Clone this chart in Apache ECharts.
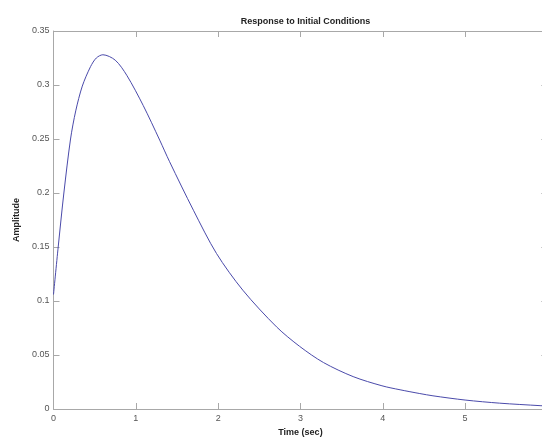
<!DOCTYPE html>
<html>
<head>
<meta charset="utf-8">
<script src="https://cdn.jsdelivr.net/npm/echarts@6/dist/echarts.min.js"></script>
<style>html,body{margin:0;padding:0;background:#fff;overflow:hidden}#c{width:548px;height:439px}</style>
</head>
<body>
<div id="c"></div>
<script>
var timeSec = [0, 0.057, 0.126, 0.207, 0.27, 0.35, 0.45, 0.52, 0.6, 0.75, 0.89, 1.09, 1.29, 1.41, 1.7, 1.98, 2.3, 2.71, 2.99, 3.28, 3.64, 3.99, 4.21, 4.45, 4.61, 5.0, 5.42, 5.91, 6.0];
var amplitude = [0.106, 0.15, 0.2, 0.25, 0.276, 0.299, 0.317, 0.325, 0.328, 0.323, 0.309, 0.281, 0.249, 0.229, 0.184, 0.144, 0.110, 0.076, 0.058, 0.043, 0.030, 0.0215, 0.0178, 0.0143, 0.0122, 0.0083, 0.0054, 0.0031, 0.0028];
var xTicks = [0, 1, 2, 3, 4, 5, 6];
var yTicks = [0, 0.05, 0.1, 0.15, 0.2, 0.25, 0.3, 0.35];

var pts = timeSec.map(function (t, i) { return [t, amplitude[i]]; });
var font = 'Liberation Sans, Arial, sans-serif';
var axisGray = '#a8a8a8';
var labelGray = '#555';

function xAx(show, pos) {
  return {
    type: 'value', position: pos, min: xTicks[0], max: xTicks[xTicks.length - 1], interval: 1,
    axisLine: { show: true, onZero: false, lineStyle: { color: axisGray, width: 1 } },
    axisTick: { show: true, inside: true, length: 6, lineStyle: { color: axisGray } },
    splitLine: { show: false },
    axisLabel: { show: show, fontSize: 9, fontFamily: font, color: labelGray, margin: 5 },
    name: show ? 'Time (sec)' : '', nameLocation: 'middle', nameGap: 19,
    nameTextStyle: { fontSize: 9, fontWeight: 'bold', fontFamily: font, color: '#222' }
  };
}
function yAx(show, pos) {
  return {
    type: 'value', position: pos, min: yTicks[0], max: yTicks[yTicks.length - 1], interval: 0.05,
    axisLine: { show: true, onZero: false, lineStyle: { color: axisGray, width: 1 } },
    axisTick: { show: true, inside: true, length: 6, lineStyle: { color: axisGray } },
    splitLine: { show: false },
    axisLabel: { show: show, fontSize: 9, fontFamily: font, color: labelGray, margin: 4,
      formatter: function (v) { return String(Math.round(v * 100) / 100); } },
    name: show ? 'Amplitude' : '', nameLocation: 'middle', nameGap: 30, nameRotate: 90,
    nameTextStyle: { fontSize: 9, fontWeight: 'bold', fontFamily: font, color: '#222' }
  };
}

var chart = echarts.init(document.getElementById('c'), null, { renderer: 'canvas' });
chart.setOption({
  animation: false,
  backgroundColor: '#fff',
  title: {
    text: 'Response to Initial Conditions', left: 300.5, top: 12, textAlign: 'center',
    textStyle: { fontSize: 9, fontWeight: 'bold', fontFamily: font, color: '#222' }
  },
  grid: { left: 53.5, top: 31, right: 0.6, bottom: 30, containLabel: false, outerBoundsMode: 'none' },
  xAxis: [xAx(true, 'bottom'), xAx(false, 'top')],
  yAxis: [yAx(true, 'left'), yAx(false, 'right')],
  series: [{
    type: 'line', xAxisIndex: 0, yAxisIndex: 0, data: pts, smooth: 0.3,
    showSymbol: false, lineStyle: { color: '#4a4aaa', width: 1 }
  }]
});
</script>
</body>
</html>
